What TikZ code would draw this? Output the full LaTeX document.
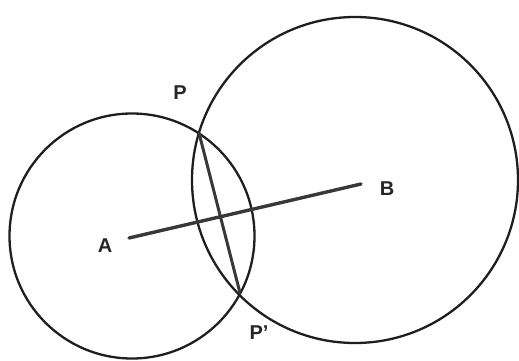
\documentclass[tikz,border=0pt]{standalone}
\usepackage{fontspec}
\setmainfont{Liberation Sans}
\begin{document}
\begin{tikzpicture}[x=1pt,y=1pt,
  circ/.style={draw=black!88, line width=2.3pt},
  seg/.style={draw=black!78, line width=3.4pt, line cap=round},
  lab/.style={font=\fontsize{20}{20}\selectfont\bfseries, text=black!85, inner sep=0pt}]
\useasboundingbox (0,0) rectangle (519,360);
% centres and points (y = 360 - pixel y)
\coordinate (A) at (129,122);
\coordinate (B) at (361,176);
\coordinate (CA) at (132,124);
\coordinate (CB) at (355,180);
\coordinate (P) at (199,227);
\coordinate (Pp) at (240,67);
\draw[circ] (CA) circle (122.5);
\draw[circ] (CB) circle (163);
\draw[seg] (A) -- (B);
\draw[seg, line width=3pt] (P) -- (Pp);
\node[lab] (lA) at (105,114) {A};
\node[lab] (lB) at (387,171) {B};
\node[lab] (lP) at (180,267) {P};
\node[lab] (lPp) at (259,27) {P’};
\end{tikzpicture}
\end{document}
